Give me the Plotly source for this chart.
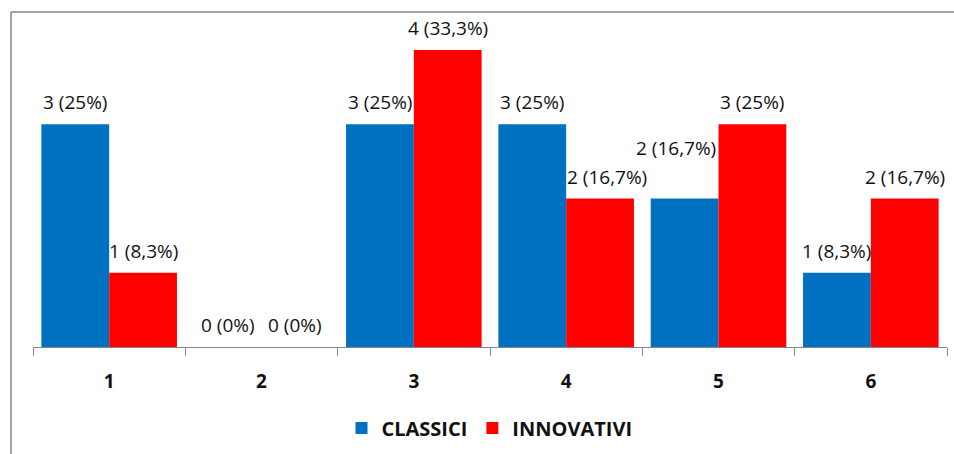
import plotly.graph_objects as go

categories = ["1", "2", "3", "4", "5", "6"]
classici = [3, 0, 3, 3, 2, 1]
innovativi = [1, 0, 4, 2, 3, 2]
classici_labels = ["3 (25%)", "0 (0%)", "3 (25%)", "3 (25%)", "2 (16,7%)", "1 (8,3%)"]
innovativi_labels = ["1 (8,3%)", "0 (0%)", "4 (33,3%)", "2 (16,7%)", "3 (25%)", "2 (16,7%)"]

W, H = 954, 454
ML, MR, MT, MB = 33, 7, 13, 107
PW, PH = W - ML - MR, H - MT - MB
BLUE, RED, GRAY = "#0070C0", "#FF0000", "#868686"
TXT = "#111111"
FONT = "Open Sans"

# label nudges (pixels) used in the reference to avoid overlapping labels: (series, category index) -> (dx, dy)
nudges = {("INNOVATIVI", 3): (7, 0), ("CLASSICI", 4): (-9, 29)}

fig = go.Figure()
fig.add_trace(go.Bar(x=categories, y=classici, name="CLASSICI", marker=dict(color=BLUE, line=dict(width=0))))
fig.add_trace(go.Bar(x=categories, y=innovativi, name="INNOVATIVI", marker=dict(color=RED, line=dict(width=0))))

bargap = 0.11
half_bar = PW / len(categories) * (1 - bargap) / 4
annotations = []
for name, labels, vals, shift in (("CLASSICI", classici_labels, classici, -half_bar),
                                  ("INNOVATIVI", innovativi_labels, innovativi, half_bar)):
    for i, (v, t) in enumerate(zip(vals, labels)):
        dx, dy = nudges.get((name, i), (0, 0))
        annotations.append(dict(x=i, xref="x", y=v, yref="y", text=t, showarrow=False,
                                xshift=shift + dx, yshift=22 + dy, yanchor="middle",
                                font=dict(family=FONT, size=19, color=TXT)))

# border (top and left lines of chart area)
bx = (11 - ML) / PW
by = 1 + (MT - 12) / PH
shapes = [
    dict(type="line", xref="paper", yref="paper", x0=bx, x1=1.05, y0=by, y1=by, line=dict(color=GRAY, width=1.5)),
    dict(type="line", xref="paper", yref="paper", x0=bx, x1=bx, y0=by, y1=-0.5, line=dict(color=GRAY, width=1.5)),
]

fig.update_layout(
    width=W, height=H,
    margin=dict(l=ML, r=MR, t=MT, b=MB),
    paper_bgcolor="white", plot_bgcolor="white",
    barmode="group", bargap=bargap, bargroupgap=0,
    font=dict(family=FONT, color=TXT),
    showlegend=True,
    legend=dict(orientation="h", x=(489.5 - ML) / PW, xanchor="center", y=-81 / PH, yanchor="middle",
                font=dict(family=FONT, size=20, color=TXT, weight="bold"),
                itemclick=False),
    annotations=annotations,
    shapes=shapes,
)
fig.update_xaxes(type="category", categoryorder="array", categoryarray=categories,
                 range=[-0.5, len(categories) - 0.5],
                 showline=True, linecolor=GRAY, linewidth=1,
                 ticks="outside", tickson="boundaries", ticklen=8, tickcolor=GRAY,
                 tickfont=dict(family=FONT, size=19, color=TXT, weight="bold"),
                 ticklabelstandoff=17, showgrid=False, zeroline=False)
fig.update_yaxes(range=[0, 4.5], visible=False, showgrid=False, zeroline=False)

fig.write_html("out.html")
